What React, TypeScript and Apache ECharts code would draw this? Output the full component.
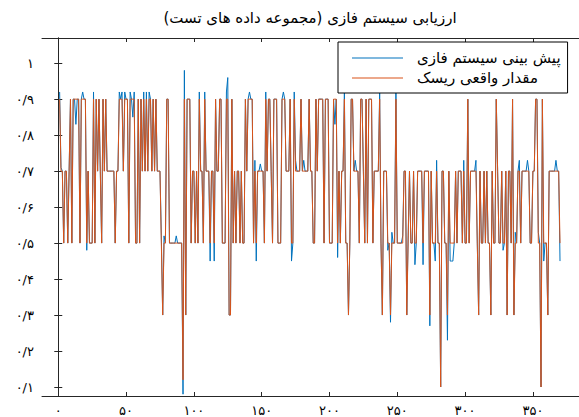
import React, { useEffect, useRef } from "react";
import * as echarts from "echarts";

const TITLE = "ارزیابی سیستم فازی (مجموعه داده های تست)";
const SERIES_PRED = "پیش بینی سیستم فازی";
const SERIES_ACTUAL = "مقدار واقعی ریسک";

const xTickValues = [0, 50, 100, 150, 200, 250, 300, 350];
const xTickLabels = ["۰", "۵۰", "۱۰۰", "۱۵۰", "۲۰۰", "۲۵۰", "۳۰۰", "۳۵۰"];
const yTickValues = [0.1, 0.2, 0.3, 0.4, 0.5, 0.6, 0.7, 0.8, 0.9, 1];
const yTickLabels = ["۰/۱", "۰/۲", "۰/۳", "۰/۴", "۰/۵", "۰/۶", "۰/۷", "۰/۸", "۰/۹", "۱"];

const actual = [
  .9,.7,.7,.5,.7,.7,.5,.7,.9,.5,
  .9,.9,.9,.9,.9,.5,.9,.9,.9,.9,
  .5,.7,.5,.5,.5,.9,.5,.9,.7,.9,
  .7,.5,.9,.7,.9,.7,.7,.7,.7,.7,
  .7,.5,.7,.7,.9,.9,.9,.7,.9,.9,
  .9,.5,.9,.9,.9,.9,.5,.5,.9,.5,
  .9,.7,.9,.7,.9,.7,.9,.9,.7,.9,
  .7,.9,.7,.7,.7,.5,.3,.5,.5,.9,
  .9,.5,.5,.5,.5,.5,.5,.5,.5,.5,
  .5,.12,.9,.3,.9,.9,.9,.5,.7,.7,
  .5,.7,.5,.9,.7,.7,.5,.9,.7,.7,
  .7,.5,.7,.7,.5,.9,.7,.7,.9,.9,
  .5,.5,.5,.9,.9,.3,.3,.9,.5,.7,
  .5,.7,.7,.5,.7,.5,.5,.9,.7,.9,
  .9,.9,.9,.5,.7,.5,.7,.7,.7,.7,
  .7,.5,.9,.7,.9,.9,.7,.5,.9,.9,
  .9,.5,.5,.5,.9,.9,.9,.7,.7,.7,
  .9,.5,.5,.9,.7,.7,.7,.7,.9,.7,
  .7,.7,.7,.7,.9,.7,.7,.5,.5,.9,
  .7,.9,.9,.9,.9,.5,.9,.9,.9,.5,
  .5,.5,.9,.9,.9,.5,.7,.5,.7,.7,
  .9,.5,.5,.3,.5,.9,.9,.7,.7,.7,
  .7,.5,.9,.9,.7,.5,.9,.5,.9,.9,
  .9,.5,.7,.7,.7,.7,.9,.5,.3,.7,
  .7,.7,.5,.5,.3,.5,.5,.5,.9,.5,
  .5,.5,.5,.5,.7,.7,.3,.5,.7,.5,
  .5,.7,.5,.5,.7,.7,.7,.7,.5,.7,
  .7,.7,.7,.3,.7,.5,.5,.5,.7,.5,
  .5,.1,.7,.7,.5,.5,.3,.7,.5,.5,
  .5,.5,.7,.5,.7,.7,.7,.5,.7,.5,
  .5,.9,.5,.7,.7,.7,.7,.7,.5,.3,
  .7,.5,.5,.7,.5,.7,.5,.5,.3,.7,
  .5,.5,.9,.7,.5,.5,.7,.5,.5,.7,
  .3,.7,.7,.5,.9,.3,.5,.5,.7,.7,
  .5,.7,.7,.7,.7,.7,.7,.5,.5,.7,
  .7,.9,.9,.5,.5,.1,.9,.5,.5,.5,
  .3,.7,.7,.7,.7,.7,.7,.7,.7,.5,
];

const predicted = [
  .92,.71,.7,.5,.7,.7,.5,.7,.9,.5,
  .9,.9,.83,.9,.9,.5,.9,.92,.9,.9,
  .48,.7,.5,.5,.5,.92,.5,.9,.7,.9,
  .7,.5,.9,.7,.9,.7,.7,.7,.7,.7,
  .7,.5,.7,.7,.92,.9,.92,.7,.92,.9,
  .9,.5,.92,.9,.85,.92,.5,.5,.9,.5,
  .9,.7,.92,.7,.92,.7,.92,.9,.7,.9,
  .7,.9,.7,.7,.7,.52,.3,.52,.5,.9,
  .9,.5,.5,.5,.5,.5,.52,.5,.5,.5,
  .5,.08,.98,.3,.9,.9,.9,.5,.7,.7,
  .5,.7,.5,.92,.7,.7,.5,.92,.7,.7,
  .7,.45,.7,.7,.45,.9,.7,.7,.9,.9,
  .5,.5,.5,.92,.96,.3,.3,.9,.5,.7,
  .5,.7,.7,.5,.7,.5,.5,.9,.7,.9,
  .92,.9,.9,.5,.73,.45,.7,.7,.72,.7,
  .7,.5,.92,.7,.9,.9,.7,.5,.9,.9,
  .9,.5,.5,.5,.9,.92,.9,.7,.7,.7,
  .9,.45,.5,.92,.73,.7,.7,.7,.9,.7,
  .73,.7,.7,.7,.9,.7,.7,.5,.5,.9,
  .7,.9,.9,.9,.9,.5,.9,.9,.9,.5,
  .5,.5,.9,.83,.9,.46,.7,.5,.7,.7,
  .92,.5,.5,.3,.5,.9,.9,.7,.73,.7,
  .7,.5,.9,.9,.7,.5,.9,.5,.9,.9,
  .9,.5,.7,.7,.7,.7,.92,.5,.3,.7,
  .7,.7,.48,.5,.28,.53,.5,.5,.92,.5,
  .5,.5,.5,.52,.7,.7,.3,.52,.7,.5,
  .5,.7,.44,.5,.7,.7,.7,.7,.44,.7,
  .7,.7,.7,.27,.7,.5,.5,.45,.73,.5,
  .5,.1,.7,.7,.5,.5,.23,.7,.45,.45,
  .45,.5,.7,.5,.7,.7,.7,.5,.73,.5,
  .5,.9,.5,.7,.7,.7,.7,.73,.5,.3,
  .7,.5,.5,.7,.5,.7,.5,.5,.3,.7,
  .5,.5,.9,.7,.5,.5,.7,.48,.5,.7,
  .3,.7,.7,.5,.9,.3,.53,.5,.7,.73,
  .5,.7,.7,.7,.7,.73,.7,.5,.5,.7,
  .7,.9,.9,.53,.5,.1,.9,.45,.5,.5,
  .3,.7,.7,.7,.7,.7,.73,.7,.7,.45,
];

const FONT = "DejaVu Sans";
const AXIS_COLOR = "#262626";
const LEGEND_ICON = "path://M0 0H51V1.2H0Z";

export default function App() {
  const ref = useRef<HTMLDivElement>(null);
  useEffect(() => {
    if (!ref.current) return;
    const chart = echarts.init(ref.current, null, { renderer: "svg" });
    const predData = predicted.map((v, i) => [i + 1, v]);
    const actData = actual.map((v, i) => [i + 1, v]);
    const xMin = -12;
    const xMax = 384;
    const yMin = 0.075;
    const yMax = 1.07;
    const baseTick = { show: true, inside: true, length: 4, lineStyle: { color: AXIS_COLOR, width: 1 } };
    const axisLine = { show: true, lineStyle: { color: AXIS_COLOR, width: 1 } };
    chart.setOption({
      animation: false,
      backgroundColor: "#fff",
      textStyle: { fontFamily: FONT },
      graphic: [
        {
          type: "text",
          x: 310,
          y: 18,
          style: {
            text: TITLE,
            fontFamily: FONT,
            fontSize: 15,
            fill: "#000",
            textAlign: "center",
            textVerticalAlign: "middle",
          },
        },
      ],
      grid: { left: 42, right: 0, top: 38, bottom: 21, containLabel: false },
      legend: {
        orient: "vertical",
        left: 338,
        top: 42,
        padding: [6, 7, 5, 14],
        itemGap: 0,
        itemWidth: 51,
        itemHeight: 14,
        icon: LEGEND_ICON,
        borderColor: "#000",
        borderWidth: 1,
        backgroundColor: "#fff",
        textStyle: { fontFamily: FONT, fontSize: 15, color: "#000", lineHeight: 20, padding: [0, 0, 0, 9] },
        data: [SERIES_PRED, SERIES_ACTUAL],
      },
      xAxis: [
        {
          type: "value",
          position: "bottom",
          min: xMin,
          max: xMax,
          axisLine,
          axisTick: { ...baseTick, customValues: xTickValues },
          axisLabel: {
            customValues: xTickValues,
            formatter: (v: number) => {
              const i = xTickValues.indexOf(Math.round(v));
              return i >= 0 ? xTickLabels[i] : "";
            },
            fontFamily: FONT,
            fontSize: 13,
            color: "#000",
            margin: 8,
          },
          splitLine: { show: false },
        },
        {
          type: "value",
          position: "top",
          min: xMin,
          max: xMax,
          axisLine,
          axisTick: { ...baseTick, customValues: xTickValues },
          axisLabel: { show: false },
          splitLine: { show: false },
        },
      ],
      yAxis: [
        {
          type: "value",
          position: "left",
          min: yMin,
          max: yMax,
          axisLine,
          axisTick: { ...baseTick, customValues: yTickValues },
          axisLabel: {
            customValues: yTickValues,
            formatter: (v: number) => {
              const i = yTickValues.findIndex((t) => Math.abs(t - v) < 1e-6);
              return i >= 0 ? yTickLabels[i] : "";
            },
            fontFamily: FONT,
            fontSize: 13,
            color: "#000",
            margin: 8,
          },
          splitLine: { show: false },
        },
        {
          type: "value",
          position: "right",
          min: yMin,
          max: yMax,
          axisLine,
          axisTick: { ...baseTick, customValues: yTickValues },
          axisLabel: { show: false },
          splitLine: { show: false },
        },
      ],
      series: [
        {
          name: SERIES_PRED,
          type: "line",
          data: predData,
          symbol: "none",
          color: "#0072BD",
          lineStyle: { width: 1, color: "#0072BD" },
        },
        {
          name: SERIES_ACTUAL,
          type: "line",
          data: actData,
          symbol: "none",
          color: "#D95319",
          lineStyle: { width: 1, color: "#D95319" },
        },
      ],
    });
    return () => chart.dispose();
  }, []);
  return <div ref={ref} style={{ width: 579, height: 417, position: "absolute", left: 0, top: 0 }} />;
}
